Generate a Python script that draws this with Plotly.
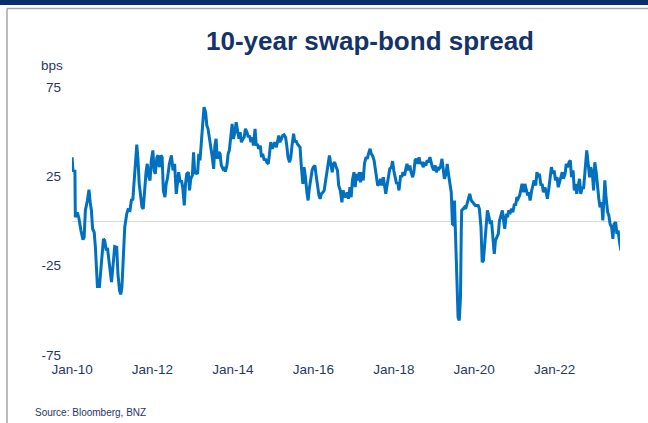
import datetime as dt
import plotly.graph_objects as go

# ---- data ----
years = [
    2010.00, 2010.02, 2010.07, 2010.08, 2010.13, 2010.17, 2010.22, 2010.27, 2010.30, 2010.33,
    2010.38, 2010.42, 2010.45, 2010.48, 2010.51, 2010.55, 2010.58, 2010.61, 2010.63, 2010.68,
    2010.73, 2010.78, 2010.81, 2010.85, 2010.88, 2010.93, 2010.98, 2011.03, 2011.06, 2011.11,
    2011.14, 2011.18, 2011.21, 2011.24, 2011.28, 2011.31, 2011.36, 2011.39, 2011.44, 2011.48,
    2011.51, 2011.54, 2011.57, 2011.61, 2011.64, 2011.67, 2011.71, 2011.74, 2011.77, 2011.81,
    2011.84, 2011.87, 2011.91, 2011.94, 2011.97, 2012.01, 2012.04, 2012.07, 2012.11, 2012.14,
    2012.17, 2012.21, 2012.24, 2012.27, 2012.31, 2012.34, 2012.37, 2012.42, 2012.47, 2012.51,
    2012.55, 2012.59, 2012.62, 2012.65, 2012.69, 2012.72, 2012.75, 2012.79, 2012.82, 2012.85,
    2012.89, 2012.92, 2012.95, 2012.99, 2013.02, 2013.05, 2013.08, 2013.12, 2013.15, 2013.18,
    2013.22, 2013.25, 2013.28, 2013.32, 2013.35, 2013.38, 2013.42, 2013.45, 2013.48, 2013.52,
    2013.55, 2013.58, 2013.61, 2013.65, 2013.68, 2013.71, 2013.75, 2013.78, 2013.81, 2013.85,
    2013.88, 2013.91, 2013.95, 2013.98, 2014.01, 2014.05, 2014.08, 2014.11, 2014.15, 2014.18,
    2014.21, 2014.25, 2014.28, 2014.31, 2014.35, 2014.38, 2014.41, 2014.45, 2014.48, 2014.51,
    2014.55, 2014.58, 2014.61, 2014.64, 2014.68, 2014.71, 2014.74, 2014.78, 2014.81, 2014.84,
    2014.88, 2014.91, 2014.94, 2014.98, 2015.01, 2015.04, 2015.08, 2015.11, 2015.14, 2015.17,
    2015.21, 2015.24, 2015.27, 2015.31, 2015.34, 2015.37, 2015.41, 2015.44, 2015.47, 2015.51,
    2015.54, 2015.57, 2015.60, 2015.64, 2015.67, 2015.70, 2015.74, 2015.77, 2015.80, 2015.84,
    2015.87, 2015.90, 2015.94, 2015.97, 2016.00, 2016.04, 2016.07, 2016.10, 2016.14, 2016.17,
    2016.20, 2016.24, 2016.27, 2016.30, 2016.34, 2016.37, 2016.40, 2016.44, 2016.47, 2016.50,
    2016.53, 2016.57, 2016.60, 2016.63, 2016.67, 2016.71, 2016.74, 2016.77, 2016.81, 2016.84,
    2016.87, 2016.91, 2016.94, 2016.97, 2017.01, 2017.04, 2017.07, 2017.11, 2017.14, 2017.17,
    2017.21, 2017.24, 2017.27, 2017.31, 2017.34, 2017.37, 2017.41, 2017.44, 2017.47, 2017.51,
    2017.54, 2017.57, 2017.60, 2017.64, 2017.67, 2017.70, 2017.74, 2017.77, 2017.80, 2017.84,
    2017.87, 2017.90, 2017.94, 2017.97, 2018.00, 2018.04, 2018.07, 2018.10, 2018.13, 2018.17,
    2018.20, 2018.23, 2018.27, 2018.30, 2018.33, 2018.37, 2018.40, 2018.43, 2018.47, 2018.50,
    2018.53, 2018.56, 2018.60, 2018.63, 2018.66, 2018.70, 2018.73, 2018.76, 2018.80, 2018.83,
    2018.86, 2018.90, 2018.93, 2018.96, 2019.00, 2019.03, 2019.06, 2019.10, 2019.13, 2019.16,
    2019.20, 2019.23, 2019.26, 2019.30, 2019.33, 2019.36, 2019.40, 2019.43, 2019.46, 2019.50,
    2019.51, 2019.53, 2019.56, 2019.60, 2019.63, 2019.66, 2019.68, 2019.69, 2019.73, 2019.76,
    2019.79, 2019.83, 2019.86, 2019.89, 2019.93, 2019.96, 2020.03, 2020.10, 2020.13, 2020.17,
    2020.20, 2020.23, 2020.27, 2020.30, 2020.33, 2020.37, 2020.40, 2020.43, 2020.47, 2020.50,
    2020.53, 2020.57, 2020.60, 2020.63, 2020.66, 2020.70, 2020.73, 2020.76, 2020.80, 2020.83,
    2020.86, 2020.90, 2020.93, 2020.96, 2021.00, 2021.03, 2021.06, 2021.09, 2021.13, 2021.16,
    2021.19, 2021.23, 2021.26, 2021.29, 2021.33, 2021.36, 2021.39, 2021.43, 2021.46, 2021.49,
    2021.53, 2021.56, 2021.59, 2021.62, 2021.66, 2021.69, 2021.72, 2021.76, 2021.79, 2021.82,
    2021.86, 2021.89, 2021.92, 2021.96, 2021.99, 2022.02, 2022.06, 2022.09, 2022.12, 2022.16,
    2022.19, 2022.22, 2022.26, 2022.29, 2022.32, 2022.36, 2022.39, 2022.42, 2022.46, 2022.49,
    2022.52, 2022.55, 2022.59, 2022.62, 2022.65, 2022.69, 2022.72, 2022.75, 2022.79, 2022.80,
    2022.84, 2022.87, 2022.90, 2022.94, 2022.97, 2023.00, 2023.04, 2023.07, 2023.10, 2023.13,
    2023.17, 2023.20, 2023.23, 2023.25, 2023.28, 2023.32, 2023.35, 2023.38, 2023.42, 2023.45,
    2023.48, 2023.52, 2023.55, 2023.58, 2023.61, 2023.65,
]

spread_bps = [
    35.7, 28.3, 28.0, 2.1, 4.9, 1.4, -5.3, -10.5, -9.0, 5.9,
    11.5, 17.5, 10.5, 5.9, -4.4, -6.3, -14.7, -29.5, -36.7, -36.7,
    -22.0, -10.0, -10.9, -16.5, -15.0, -24.0, -34.2, -22.0, -14.3, -14.7,
    -29.5, -38.9, -41.1, -37.0, -20.3, -3.5, 4.0, 6.3, 5.9, 12.4,
    11.5, 22.7, 33.9, 42.8, 33.9, 20.8, 13.3, 7.7, 6.8, 20.8,
    27.3, 32.0, 24.5, 22.7, 33.9, 39.5, 28.3, 26.4, 35.7, 36.7,
    30.1, 36.7, 35.7, 17.1, 13.3, 20.8, 23.6, 32.0, 36.7, 28.3,
    32.0, 15.2, 22.7, 27.3, 21.7, 22.7, 18.9, 8.7, 20.8, 26.4,
    27.3, 17.1, 23.6, 25.5, 38.5, 26.4, 27.3, 26.4, 37.6, 33.9,
    46.0, 57.2, 63.7, 60.9, 53.4, 51.6, 46.0, 40.4, 36.7, 29.2,
    42.2, 46.0, 34.8, 38.5, 37.6, 31.1, 29.2, 30.1, 27.7, 31.1,
    37.6, 39.5, 49.7, 54.4, 46.0, 49.7, 55.3, 51.6, 46.0, 49.7,
    44.1, 46.0, 46.9, 51.6, 49.7, 46.9, 47.8, 44.1, 46.9, 42.2,
    51.6, 42.2, 43.2, 40.4, 42.2, 35.7, 37.6, 33.9, 34.8, 32.9,
    32.0, 37.6, 44.1, 40.4, 42.2, 44.1, 41.3, 45.0, 47.8, 44.1,
    46.9, 47.8, 48.2, 46.9, 42.2, 35.7, 32.9, 35.7, 42.2, 48.8,
    44.1, 45.0, 43.2, 42.2, 41.3, 31.1, 20.8, 30.1, 25.5, 16.1,
    11.5, 18.0, 25.5, 28.3, 30.1, 31.1, 25.5, 19.9, 14.3, 12.4,
    15.2, 16.1, 17.1, 21.7, 28.3, 32.9, 36.7, 31.1, 27.3, 32.0,
    32.9, 30.1, 28.3, 19.9, 17.1, 10.5, 17.1, 14.3, 13.3, 16.1,
    12.4, 18.9, 13.3, 22.7, 27.3, 18.9, 26.4, 22.7, 27.3, 21.7,
    27.3, 22.7, 32.0, 35.7, 34.8, 37.6, 40.4, 37.6, 36.7, 33.9,
    30.1, 24.5, 19.9, 20.8, 23.6, 19.9, 24.5, 18.9, 15.2, 20.8,
    26.4, 29.2, 30.1, 33.5, 28.3, 22.7, 20.8, 21.7, 17.1, 25.5,
    24.5, 27.3, 25.5, 29.2, 32.0, 28.3, 31.1, 27.3, 24.5, 27.3,
    33.9, 34.8, 32.0, 35.7, 32.0, 32.9, 30.1, 32.0, 31.1, 33.9,
    32.9, 35.7, 32.0, 30.1, 28.3, 31.1, 27.3, 30.1, 29.2, 30.1,
    34.8, 30.1, 23.6, 26.4, 32.0, 26.4, 18.9, 16.1, -1.6, -2.5,
    11.5, -1.6, -33.3, -53.8, -55.7, -42.6, -5.3, 5.9, 6.8, 7.7,
    6.8, 10.5, 12.4, 15.2, 11.5, 10.5, 8.7, 8.7, 6.8, -3.5,
    -23.1, -22.1, -10.0, 2.1, 5.9, 2.1, -1.6, 0.3, -9.1, -18.4,
    -10.9, -8.1, -7.2, 0.3, 3.1, 5.9, 0.3, -4.4, 4.0, 2.1,
    5.9, 4.9, 6.8, 4.9, 9.6, 8.7, 13.3, 12.4, 14.3, 18.9,
    20.8, 16.1, 20.8, 18.0, 14.3, 16.1, 11.5, 17.1, 20.8, 22.7,
    19.9, 27.3, 24.5, 26.4, 19.9, 20.8, 16.1, 18.9, 16.1, 12.4,
    18.9, 25.5, 30.1, 26.4, 28.3, 22.7, 24.5, 18.9, 21.7, 24.5,
    27.3, 23.6, 26.4, 32.0, 30.1, 32.9, 33.9, 24.5, 28.3, 17.1,
    20.8, 15.2, 21.7, 23.6, 15.2, 18.9, 18.0, 27.3, 33.9, 39.5,
    31.1, 24.5, 30.1, 26.4, 17.1, 32.9, 26.4, 17.1, 12.4, 7.7,
    10.5, 0.3, 12.4, 22.7, 13.3, 4.9, 3.1, -1.6, -3.5, -10.0,
    -1.6, -0.7, -7.2, -5.3, -10.9, -16.5,
]

y_ticks = [-75, -25, 25, 75]
y_tick_labels = ["-75", "-25", "25", "75"]
title_text = "10-year swap-bond spread"
unit_text = "bps"
source_text = "Source: Bloomberg, BNZ"

NAVY = "#1f3864"
LINE = "#0070c0"
FONT = "Liberation Sans, Arial, sans-serif"


def dec_to_date(y):
    yr = int(y)
    start = dt.datetime(yr, 1, 1)
    end = dt.datetime(yr + 1, 1, 1)
    return start + (end - start) * (y - yr)


dates = [dec_to_date(y) for y in years]

fig = go.Figure()
fig.add_trace(go.Scatter(
    x=dates, y=spread_bps, mode="lines",
    line=dict(color=LINE, width=3),
    hoverinfo="skip", showlegend=False,
))

W, H = 648, 423
L, R, T, B = 72, 28, 87, 68
pw, ph = W - L - R, H - T - B


def px(xp):
    return (xp - L) / pw


def py(yp):
    return (H - B - yp) / ph


fig.update_layout(
    width=W, height=H,
    margin=dict(l=L, r=R, t=T, b=B),
    paper_bgcolor="white", plot_bgcolor="white",
    font=dict(family=FONT, color=NAVY, size=13.5),
    title=dict(
        text=f"<b>{title_text}</b>", x=370 / W, xanchor="center",
        y=1 - 41 / H, yanchor="middle", xref="container", yref="container",
        font=dict(family=FONT, size=26, color="#14336b"),
    ),
    xaxis=dict(
        type="date", range=["2009-12-31", "2023-08-18"],
        tick0="2010-01-01", dtick="M24", tickformat="%b-%y",
        showgrid=False, zeroline=False, showline=False, ticks="",
        ticklabelstandoff=4,
        tickfont=dict(size=13.5, color=NAVY),
    ),
    yaxis=dict(
        range=[-75, 75], tickvals=y_ticks, ticktext=y_tick_labels, showgrid=False,
        zeroline=True, zerolinecolor="#d9d9d9", zerolinewidth=1,
        showline=False, ticks="", ticklabelstandoff=10,
        tickfont=dict(size=13.5, color=NAVY),
    ),
    annotations=[
        dict(text=unit_text, x=px(52), y=py(65), xref="paper", yref="paper",
             xanchor="center", yanchor="middle", showarrow=False,
             font=dict(size=13.5, color=NAVY, family=FONT)),
        dict(text=source_text, x=px(33), y=py(412), xref="paper", yref="paper",
             xanchor="left", yanchor="middle", showarrow=False,
             font=dict(size=10, color=NAVY, family=FONT)),
    ],
    shapes=[
        dict(type="rect", xref="paper", yref="paper", x0=px(0), x1=px(W),
             y0=py(0), y1=py(5), fillcolor="#0a2d6e", line=dict(width=0), layer="above"),
        dict(type="line", xref="paper", yref="paper", x0=px(7), x1=px(W),
             y0=py(8.5), y1=py(8.5), line=dict(color="#a6a6a6", width=1.5)),
        dict(type="line", xref="paper", yref="paper", x0=px(7), x1=px(7),
             y0=py(8.5), y1=py(H), line=dict(color="#a6a6a6", width=1.5)),
    ],
)

fig.write_html(
    "out.html",
    config={"displayModeBar": False},
    post_script="document.body.style.margin='0';document.body.style.overflow='hidden';",
)
